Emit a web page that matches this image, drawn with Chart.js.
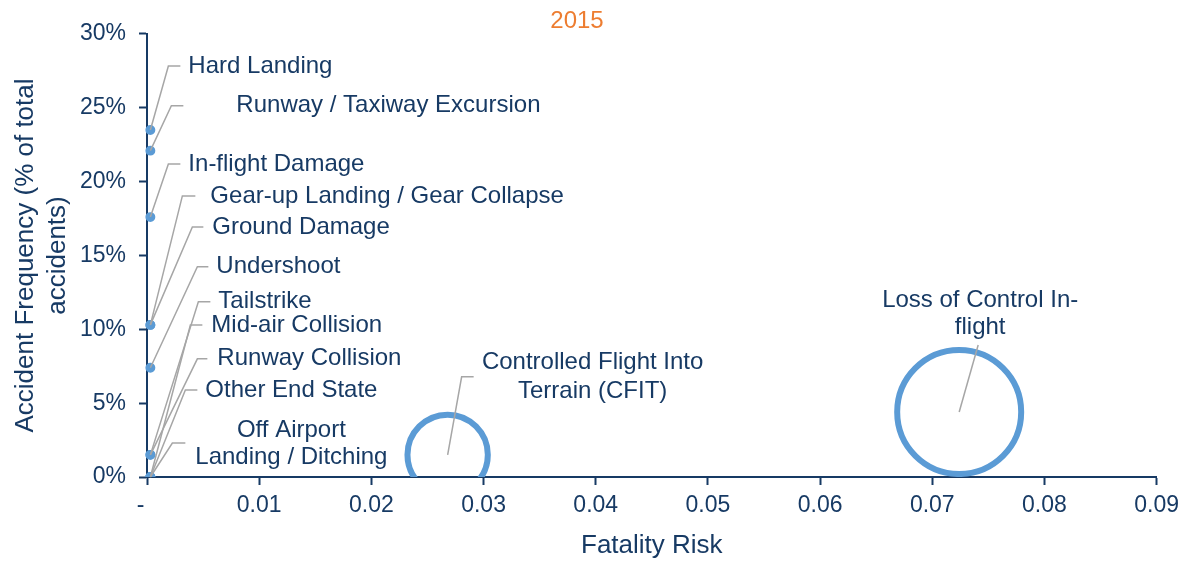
<!DOCTYPE html>
<html>
<head>
<meta charset="utf-8">
<title>2015</title>
<script src="https://cdn.jsdelivr.net/npm/chart.js@4.4.1/dist/chart.umd.min.js"></script>
<style>
html, body { margin: 0; padding: 0; background: #fff; }
canvas { display: block; }
</style>
</head>
<body>
<canvas id="bubbleCanvas" width="1186" height="561"></canvas>
<script>
// end states, 2015
var endStates = [
	"Hard Landing",
	"Runway / Taxiway Excursion",
	"In-flight Damage",
	"Gear-up Landing / Gear Collapse",
	"Ground Damage",
	"Undershoot",
	"Tailstrike",
	"Mid-air Collision",
	"Runway Collision",
	"Other End State",
	["Off Airport", "Landing / Ditching"],
	["Controlled Flight Into", "Terrain (CFIT)"],
	["Loss of Control In-", "flight"]
];
var fatalityRisk = [0.0003, 0.0003, 0.0003, 0.0003, 0.0003, 0.0003, 0.0003, 0.0003, 0.0003, 0.0003, 0.0003, 0.0268, 0.0724];
var accidentFreq = [0.235, 0.221, 0.176, 0.103, 0.103, 0.074, 0.015, 0, 0.015, 0, 0, 0.015, 0.044];
var bubbleSize   = [0.001, 0.001, 0.001, 0.001, 0.001, 0.001, 0.001, 0.001, 0.001, 0.001, 0.001, 0.42, 1];

var xTickLabels = ["-  ", "0.01", "0.02", "0.03", "0.04", "0.05", "0.06", "0.07", "0.08", "0.09"];
var yTickLabels = ["0%", "5%", "10%", "15%", "20%", "25%", "30%"];

// leader line layout, offsets from the bubble: [elbow dx, elbow dy, hline length, text dx, text dy, align, line gap]
var labelLayout = [
	[18, -64, 12, 20, 0, "left", 27],
	[21, -45, 12, 65, 0, "left", 27],
	[18, -53, 12, 20, 0, "left", 27],
	[32, -129, 13, 28, 0, "left", 27],
	[42, -98, 11, 20, 0, "left", 27],
	[47, -101, 11, 19, 0, "left", 27],
	[48, -153, 12, 20, 0, "left", 27],
	[40, -152, 12, 21, 0, "left", 27],
	[47, -96, 10, 20, 0, "left", 27],
	[35, -87, 12, 20, 0, "left", 27],
	[22, -34, 13, 119, -13, "center", 27],
	[14, -78, 12, 131, -14, "center", 29],
	[19, -67, 0, 2, -45, "center", 27]
];

var navy = "#173a64";
var blue = "#5b9bd5";
var leaderGrey = "#a6a6a6";
var fontFamily = "'Liberation Sans', Arial, sans-serif";
var maxRadius = 62;

function buildPoints() {
	var pts = [];
	for (var i = 0; i < endStates.length; i++) {
		pts.push({ x: fatalityRisk[i], y: accidentFreq[i], r: maxRadius * Math.sqrt(bubbleSize[i]) });
	}
	return pts;
}

// tiny bubbles are drawn solid, big ones as rings
function bubbleFill(c) {
	var raw = c.raw;
	return raw && raw.r < 6 ? blue : "rgba(0,0,0,0)";
}

var leaderPlugin = {
	id: "leaders",
	afterDatasetsDraw: function(chart) {
		var ctx = chart.ctx;
		var meta = chart.getDatasetMeta(0);
		ctx.save();
		ctx.strokeStyle = leaderGrey;
		ctx.lineWidth = 1.5;
		ctx.font = "24px " + fontFamily;
		ctx.fillStyle = navy;
		ctx.textBaseline = "middle";
		for (var i = 0; i < meta.data.length; i++) {
			var el = meta.data[i];
			var l = labelLayout[i];
			var ex = el.x + l[0], ey = el.y + l[1];
			ctx.beginPath();
			ctx.moveTo(el.x, el.y);
			ctx.lineTo(ex, ey);
			if (l[2] > 0) ctx.lineTo(ex + l[2], ey);
			ctx.stroke();

			ctx.textAlign = l[5];
			var lines = Array.isArray(endStates[i]) ? endStates[i] : [endStates[i]];
			for (var j = 0; j < lines.length; j++) {
				ctx.fillText(lines[j], ex + l[3], ey + l[4] + j * l[6]);
			}
		}
		ctx.restore();
	},
	afterDraw: function(chart) {
		var ctx = chart.ctx;
		ctx.save();
		ctx.font = "24px " + fontFamily;
		ctx.fillStyle = "#ed7d31";
		ctx.textAlign = "center";
		ctx.textBaseline = "middle";
		ctx.fillText("2015", 577, 21);
		ctx.restore();
	}
};

var ctx = document.getElementById("bubbleCanvas").getContext("2d");
var chart = new Chart(ctx, {
	type: "bubble",
	data: {
		datasets: [{
			label: "2015",
			data: buildPoints(),
			backgroundColor: bubbleFill,
			borderColor: blue,
			borderWidth: 6,
			hoverBorderWidth: 6,
			clip: { left: 10, top: 100, right: 100, bottom: 0 }
		}]
	},
	options: {
		responsive: false,
		animation: false,
		devicePixelRatio: 1,
		layout: { autoPadding: false, padding: { left: 0, top: 34, right: 29, bottom: 0 } },
		plugins: {
			legend: { display: false },
			tooltip: { enabled: false }
		},
		scales: {
			x: {
				type: "linear",
				min: 0,
				max: 0.09,
				afterFit: function(scale) { scale.height = 84; },
				afterBuildTicks: function(scale) {
					scale.ticks = xTickLabels.map(function(t, i) { return { value: i / 100 }; });
				},
				ticks: {
					color: navy,
					font: { family: fontFamily, size: 23 },
					padding: 7,
					maxRotation: 0,
					autoSkip: false,
					callback: function(v, i) { return xTickLabels[i]; }
				},
				grid: { drawOnChartArea: false, tickLength: 8, tickWidth: 2, tickColor: navy },
				border: { color: navy, width: 2 },
				title: {
					display: true,
					text: "Fatality Risk",
					color: navy,
					font: { family: fontFamily, size: 26 },
					padding: { top: 0, bottom: 0 }
				}
			},
			y: {
				type: "linear",
				min: 0,
				max: 0.3,
				afterFit: function(scale) { scale.width = 147; },
				afterBuildTicks: function(scale) {
					scale.ticks = yTickLabels.map(function(t, i) { return { value: i * 0.05 }; });
				},
				ticks: {
					color: navy,
					font: { family: fontFamily, size: 23 },
					padding: 13,
					autoSkip: false,
					callback: function(v, i) { return yTickLabels[i]; }
				},
				grid: { drawOnChartArea: false, tickLength: 8, tickWidth: 2, tickColor: navy },
				border: { color: navy, width: 2 },
				title: {
					display: true,
					text: ["Accident Frequency (% of total", "accidents)"],
					color: navy,
					font: { family: fontFamily, size: 26, lineHeight: 1.23 },
					padding: { top: 10, bottom: 0 }
				}
			}
		}
	},
	plugins: [leaderPlugin]
});
</script>
</body>
</html>
